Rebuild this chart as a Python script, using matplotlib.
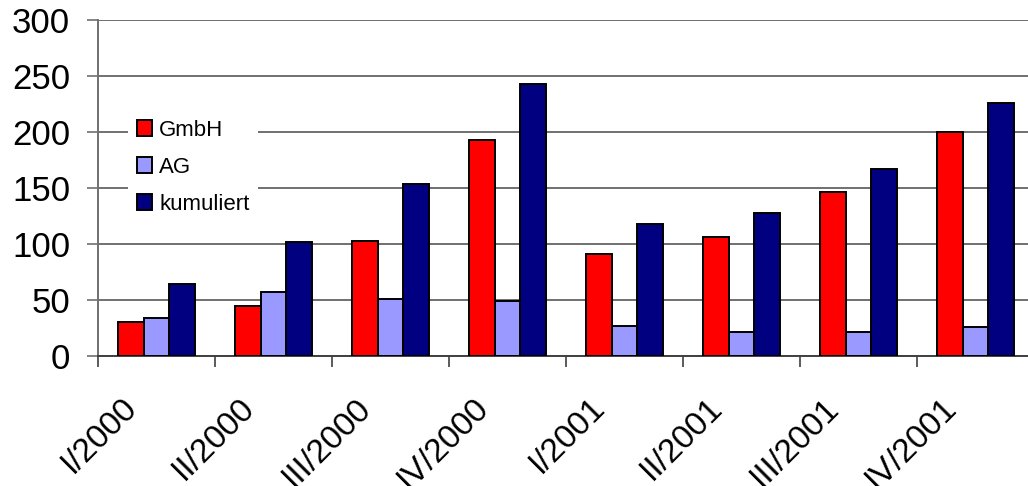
import matplotlib.pyplot as plt
import matplotlib.transforms as mtransforms
import numpy as np

plt.rcParams['font.family'] = ['Liberation Sans', 'DejaVu Sans']

quarters = ["I/2000", "II/2000", "III/2000", "IV/2000",
            "I/2001", "II/2001", "III/2001", "IV/2001"]
gmbh = [30, 45, 103, 193, 91, 106, 146, 200]
ag = [34, 57, 51, 49, 27, 21, 21, 26]
kumuliert = [64, 102, 154, 243, 118, 128, 167, 226]

fig = plt.figure(figsize=(10.28, 4.86), dpi=100)
# axes runs a little past the right edge, like the cropped original
ax = fig.add_axes([98 / 1028, 130 / 486, 936 / 1028, 336 / 486])

x = np.arange(len(quarters)) + 0.5
w = 0.22
kw = dict(edgecolor="black", linewidth=1.4, zorder=3)
ax.bar(x - w, gmbh, w, color="#ff0000", label="GmbH", **kw)
ax.bar(x, ag, w, color="#9999ff", label="AG", **kw)
ax.bar(x + w, kumuliert, w, color="#000080", label="kumuliert", **kw)

ax.set_xlim(0, 8)
ax.set_ylim(0, 300)
ax.set_yticks(range(0, 301, 50))
ax.yaxis.grid(True, color="#707070", linewidth=1.4, zorder=0)
ax.set_axisbelow(True)

ax.set_xticks(np.arange(0, 9), minor=True)
ax.set_xticks(x)
ax.set_xticklabels(quarters, rotation=45, ha="right", va="top",
                   rotation_mode="anchor", fontsize=24)
ax.tick_params(axis="x", which="major", length=0, pad=26)
ax.tick_params(axis="x", which="minor", length=8, width=1.2, color="#404040", direction="out")
ax.tick_params(axis="y", labelsize=25, length=8, width=1.2, color="#707070", pad=12)

# shift the slanted labels a bit to the left of the group centre
shift = mtransforms.ScaledTranslation(-25 / 72, 0, fig.dpi_scale_trans)
for lab in ax.get_xticklabels():
    lab.set_transform(lab.get_transform() + shift)

for s in ["top", "right"]:
    ax.spines[s].set_visible(False)
ax.spines["left"].set_color("#707070")
ax.spines["left"].set_linewidth(1.4)
ax.spines["bottom"].set_color("#404040")
ax.spines["bottom"].set_linewidth(1.4)

leg = ax.legend(loc="upper left", bbox_to_anchor=(128 / 1028, 1 - 111 / 486),
                bbox_transform=fig.transFigure, fontsize=16, frameon=True,
                fancybox=False, borderaxespad=0, borderpad=0.4,
                handlelength=0.7, handleheight=0.7, handletextpad=0.3,
                labelspacing=0.72)
leg.get_frame().set_facecolor("white")
leg.get_frame().set_edgecolor("none")
leg.get_frame().set_alpha(1)
leg.set_zorder(5)

fig.savefig("out.png", dpi=100)
